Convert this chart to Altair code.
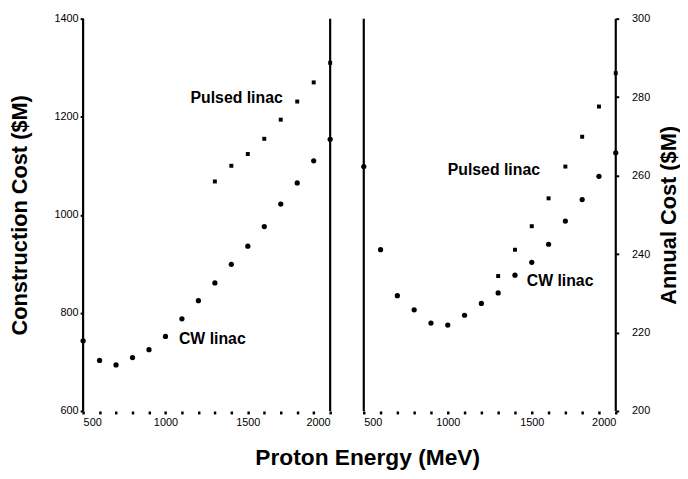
import altair as alt
import pandas as pd

energy = [500, 600, 700, 800, 900, 1000, 1100, 1200, 1300, 1400, 1500, 1600, 1700, 1800, 1900, 2000]
cw_construction = [743, 703, 694, 709, 725, 752, 788, 825, 861, 899, 936, 976, 1022, 1065, 1110, 1154]
cw_annual = [262.3, 241.1, 229.4, 225.8, 222.4, 221.9, 224.4, 227.4, 230.1, 234.6, 237.9, 242.5, 248.4, 253.9, 259.8, 265.8]

pulsed_energy = [1300, 1400, 1500, 1600, 1700, 1800, 1900, 2000]
pulsed_construction = [1068, 1100, 1124, 1155, 1194, 1231, 1270, 1310]
pulsed_annual = [234.4, 241.1, 247.1, 254.2, 262.3, 269.9, 277.6, 286.1]

x_ticks = list(range(500, 2001, 100))
left_ticks = [600, 800, 1000, 1200, 1400]
right_ticks = [200, 220, 240, 260, 280, 300]
edges = [500, 2000]

left_notes = pd.DataFrame({"x": [1712, 1082], "y": [1239, 747], "text": ["Pulsed linac", "CW linac"], "align": ["right", "left"]})
right_notes = pd.DataFrame({"x": [1000, 1470], "y": [261.3, 233.0], "text": ["Pulsed linac", "CW linac"], "align": ["left", "left"]})

FONT = "Liberation Sans"

cw_l = pd.DataFrame({"x": energy, "y": cw_construction})
pu_l = pd.DataFrame({"x": pulsed_energy, "y": pulsed_construction})
cw_r = pd.DataFrame({"x": energy, "y": cw_annual})
pu_r = pd.DataFrame({"x": pulsed_energy, "y": pulsed_annual})
edge_df = pd.DataFrame({"x": edges})


def x_enc():
    return alt.X(
        "x:Q",
        scale=alt.Scale(domain=[500, 2000], nice=False, zero=False),
        axis=alt.Axis(
            values=x_ticks,
            tickCount=40,
            format="d",
            labelExpr="datum.value % 500 == 0 ? datum.label : ''",
            labelOverlap=False,
            domain=False,
            grid=False,
            tickSize=3,
            tickWidth=2.5,
            tickColor="black",
            labelFont=FONT,
            labelFontSize=11,
            labelColor="black",
            labelPadding=3,
            title=None,
        ),
    )


def panel(cw, pu, notes, domain, ticks, title, orient, width, lpad, tpad, angle):
    y_axis = alt.Axis(
        values=ticks,
        tickCount=20,
        format="d",
        orient=orient,
        domain=False,
        grid=False,
        tickSize=3,
        tickWidth=2,
        tickColor="black",
        labelFont=FONT,
        labelFontSize=11,
        labelColor="black",
        labelPadding=lpad,
        title=title,
        titleFont=FONT,
        titleFontSize=22,
        titleFontWeight="bold",
        titleColor="black",
        titlePadding=tpad,
        titleAngle=angle,
    )
    yscale = alt.Scale(domain=domain, nice=False, zero=False)
    base_pts = alt.Chart(cw).mark_circle(size=28, color="black", opacity=1).encode(
        x=x_enc(), y=alt.Y("y:Q", scale=yscale, axis=y_axis)
    )
    pul = alt.Chart(pu).mark_square(size=16, color="black", opacity=1).encode(
        x="x:Q", y="y:Q"
    )
    rules = alt.Chart(edge_df).mark_rule(color="black", strokeWidth=2.2).encode(x="x:Q")
    texts = []
    for al in ["left", "right"]:
        sub = notes[notes["align"] == al]
        if len(sub):
            texts.append(
                alt.Chart(sub).mark_text(
                    align=al, baseline="middle", font=FONT, fontSize=16,
                    fontWeight="bold", color="black"
                ).encode(x="x:Q", y="y:Q", text="text:N")
            )
    return alt.layer(base_pts, pul, rules, *texts).properties(width=width, height=397)


left = panel(cw_l, pu_l, left_notes, [600, 1400], left_ticks, "Construction Cost ($M)", "left", 250, 2, 23, 270)
right = panel(cw_r, pu_r, right_notes, [200, 300], right_ticks, "Annual Cost ($M)", "right", 255, 13, 31, 270)

chart = (
    alt.hconcat(left, right, spacing=28)
    .resolve_scale(y="independent")
    .properties(
        title=alt.TitleParams(
            "Proton Energy (MeV)", orient="bottom", anchor="middle",
            font=FONT, fontSize=23, fontWeight="bold", color="black", offset=20, dx=24
        ),
        padding={"left": 0, "top": 2, "right": 0, "bottom": 2},
    )
    .configure_view(stroke=None)
)

chart.save("out.html", embed_options={"renderer": "svg", "actions": False})
